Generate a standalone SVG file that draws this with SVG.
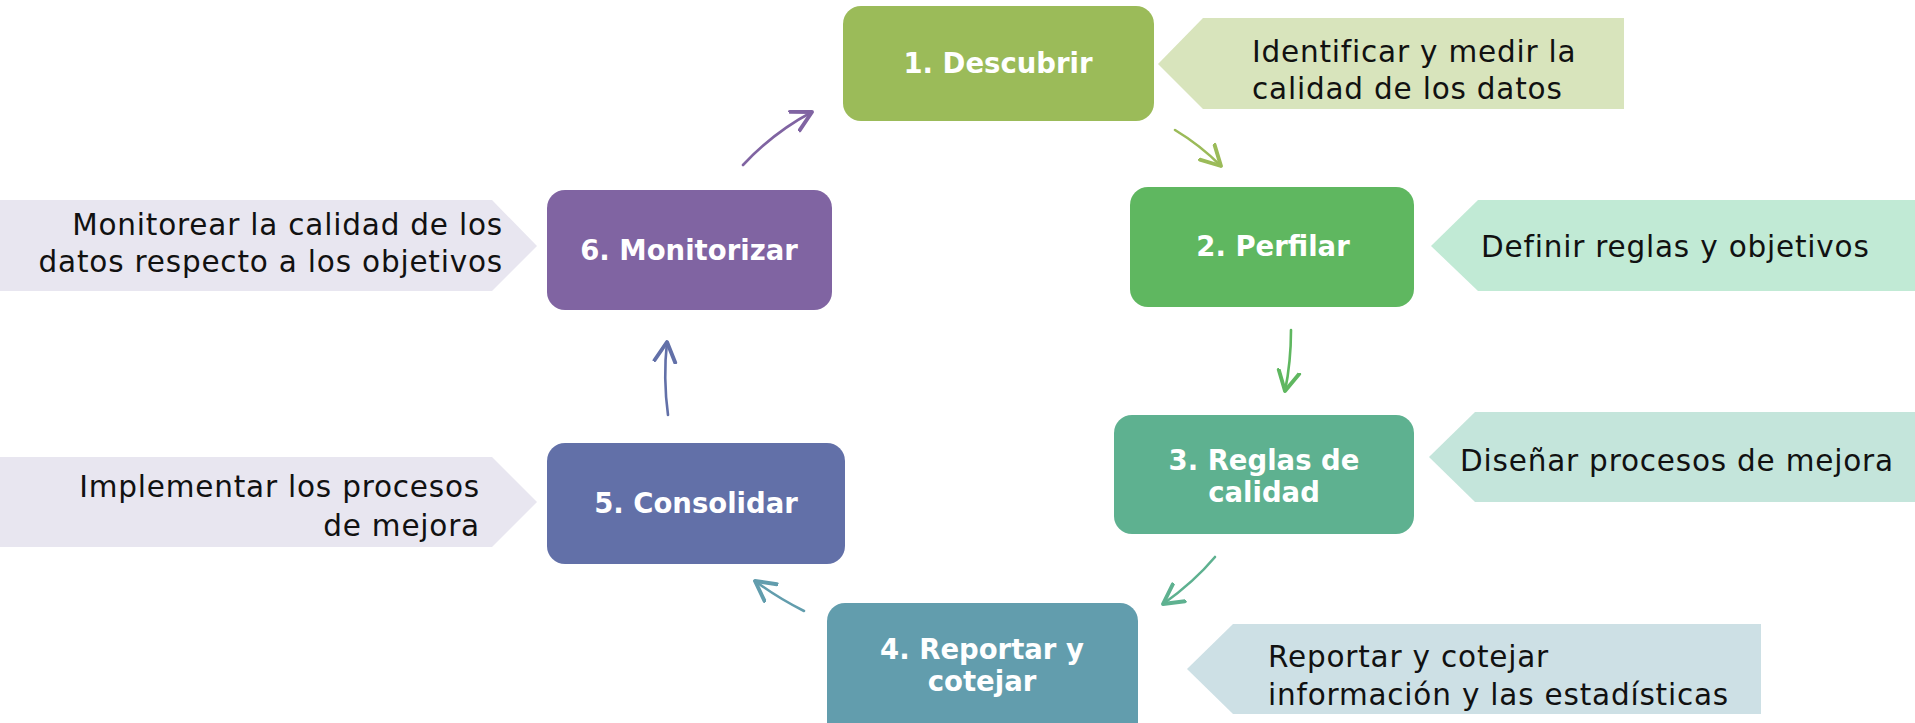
<svg xmlns="http://www.w3.org/2000/svg" width="1915" height="723" viewBox="0 0 1915 723">
<style>
.node text{font-family:"DejaVu Sans",Lato,sans-serif;font-weight:700;font-size:27.5px;fill:#fff;text-anchor:middle}
.call text{font-family:"DejaVu Sans",Lato,sans-serif;font-size:29.5px;letter-spacing:0.8px;fill:#111}
.r{text-anchor:end}
.conn path{fill:none;stroke-width:2.6;stroke-linecap:round}
</style>
<defs>
<marker id="m1" markerUnits="userSpaceOnUse" markerWidth="26" markerHeight="26" refX="16" refY="10" orient="auto" viewBox="0 0 20 20"><path d="M1,2 L16,10 L1,18" fill="none" stroke="#9BBB59" stroke-width="3" stroke-linecap="round" stroke-linejoin="round"/></marker>
<marker id="m2" markerUnits="userSpaceOnUse" markerWidth="26" markerHeight="26" refX="16" refY="10" orient="auto" viewBox="0 0 20 20"><path d="M1,2 L16,10 L1,18" fill="none" stroke="#5FB760" stroke-width="3" stroke-linecap="round" stroke-linejoin="round"/></marker>
<marker id="m3" markerUnits="userSpaceOnUse" markerWidth="26" markerHeight="26" refX="16" refY="10" orient="auto" viewBox="0 0 20 20"><path d="M1,2 L16,10 L1,18" fill="none" stroke="#5EB190" stroke-width="3" stroke-linecap="round" stroke-linejoin="round"/></marker>
<marker id="m4" markerUnits="userSpaceOnUse" markerWidth="26" markerHeight="26" refX="16" refY="10" orient="auto" viewBox="0 0 20 20"><path d="M1,2 L16,10 L1,18" fill="none" stroke="#629DAD" stroke-width="3" stroke-linecap="round" stroke-linejoin="round"/></marker>
<marker id="m5" markerUnits="userSpaceOnUse" markerWidth="26" markerHeight="26" refX="16" refY="10" orient="auto" viewBox="0 0 20 20"><path d="M1,2 L16,10 L1,18" fill="none" stroke="#6270A8" stroke-width="3" stroke-linecap="round" stroke-linejoin="round"/></marker>
<marker id="m6" markerUnits="userSpaceOnUse" markerWidth="26" markerHeight="26" refX="16" refY="10" orient="auto" viewBox="0 0 20 20"><path d="M1,2 L16,10 L1,18" fill="none" stroke="#8064A2" stroke-width="3" stroke-linecap="round" stroke-linejoin="round"/></marker>
</defs>
<rect width="1915" height="723" fill="#fff"/>

<g id="callout1" class="call">
<polygon points="1158,64 1203,18 1624,18 1624,109 1203,109" fill="#D8E4BC"/>
<text x="1252" y="62">Identificar y medir la</text>
<text x="1252" y="99">calidad de los datos</text>
</g>
<g id="callout2" class="call">
<polygon points="1431,246 1478,200 1915,200 1915,291 1478,291" fill="#C1EAD5"/>
<text x="1481" y="257">Definir reglas y objetivos</text>
</g>
<g id="callout3" class="call">
<polygon points="1429,457 1475,412 1915,412 1915,502 1475,502" fill="#C4E5DB"/>
<text x="1460" y="471">Diseñar procesos de mejora</text>
</g>
<g id="callout4" class="call">
<polygon points="1187,669 1233,624 1761,624 1761,714 1233,714" fill="#CDE0E5"/>
<text x="1268" y="667">Reportar y cotejar</text>
<text x="1268" y="705">información y las estadísticas</text>
</g>
<g id="callout5" class="call">
<polygon points="0,457 492,457 537,502 492,547 0,547" fill="#E8E6F0"/>
<text class="r" x="480" y="497">Implementar los procesos</text>
<text class="r" x="480" y="536">de mejora</text>
</g>
<g id="callout6" class="call">
<polygon points="0,200 492,200 537,246 492,291 0,291" fill="#E8E6F0"/>
<text class="r" x="503" y="235">Monitorear la calidad de los</text>
<text class="r" x="503" y="272">datos respecto a los objetivos</text>
</g>

<g id="node1" class="node">
<rect x="843" y="6" width="311" height="115" rx="18" fill="#9BBB59"/>
<text x="998" y="73">1. Descubrir</text>
</g>
<g id="node2" class="node">
<rect x="1130" y="187" width="284" height="120" rx="18" fill="#5FB760"/>
<text x="1273" y="256">2. Perfilar</text>
</g>
<g id="node3" class="node">
<rect x="1114" y="415" width="300" height="119" rx="18" fill="#5EB190"/>
<text x="1264" y="470">3. Reglas de</text>
<text x="1264" y="502">calidad</text>
</g>
<g id="node4" class="node">
<rect x="827" y="603" width="311" height="140" rx="18" fill="#629DAD"/>
<text x="982" y="659">4. Reportar y</text>
<text x="982" y="691">cotejar</text>
</g>
<g id="node5" class="node">
<rect x="547" y="443" width="298" height="121" rx="18" fill="#6270A8"/>
<text x="696" y="513">5. Consolidar</text>
</g>
<g id="node6" class="node">
<rect x="547" y="190" width="285" height="120" rx="18" fill="#8064A2"/>
<text x="689" y="260">6. Monitorizar</text>
</g>

<g id="connectors" class="conn">
<path d="M1175,130 Q1200,145 1221,166" stroke="#9BBB59" marker-end="url(#m1)"/>
<path d="M1291,330 Q1291,362 1285,391" stroke="#5FB760" marker-end="url(#m2)"/>
<path d="M1215,557 Q1194,582 1163,604" stroke="#5EB190" marker-end="url(#m3)"/>
<path d="M804,611 Q778,598 755,581" stroke="#629DAD" marker-end="url(#m4)"/>
<path d="M668,415 Q663,378 667,342" stroke="#6270A8" marker-end="url(#m5)"/>
<path d="M743,165 Q774,132 812,112" stroke="#8064A2" marker-end="url(#m6)"/>
</g>
</svg>
